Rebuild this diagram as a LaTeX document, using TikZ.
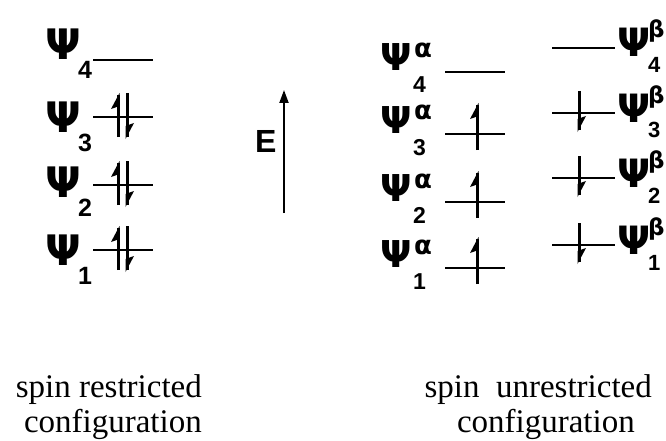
\documentclass[tikz,border=0pt]{standalone}
\usepackage{fontspec}
\setmainfont{Liberation Serif}
\newfontfamily\psf{Liberation Sans}
\newfontfamily\grf{DejaVu Sans}
\usetikzlibrary{arrows.meta}
\newcommand\upharp[3]{%
  \draw[harp] (#1,#3) -- (#1,#2+2);
  \fill (#1+1.5,#2) -- (#1-7,#2+16) -- (#1+1.5,#2+13) -- cycle;}
\newcommand\dnharp[3]{%
  \draw[harp] (#1,#2) -- (#1,#3-2);
  \fill (#1-1.5,#3) -- (#1+7,#3-16) -- (#1-1.5,#3-13) -- cycle;}
\begin{document}
\begin{tikzpicture}[x=1pt,y=-1pt,
  lvl/.style={line width=1.6pt},
  harp/.style={line width=3pt},
  bigpsi/.style={font=\grf\bfseries\fontsize{42}{42}\selectfont,inner sep=0pt,anchor=base west},
  midpsi/.style={font=\grf\bfseries\fontsize{37}{37}\selectfont,inner sep=0pt,anchor=base west},
  subdig/.style={font=\psf\bfseries\fontsize{25}{25}\selectfont,inner sep=0pt,anchor=base west},
  smalldig/.style={font=\psf\bfseries\fontsize{23}{23}\selectfont,inner sep=0pt,anchor=base west},
  supgr/.style={font=\grf\bfseries\fontsize{26}{26}\selectfont,inner sep=0pt,anchor=base west},
  caption/.style={font=\fontsize{33}{33}\selectfont,inner sep=0pt,anchor=base east}]
\useasboundingbox (0,0) rectangle (666,441);
% ---- spin restricted ----
\foreach \n/\y/\b in {4/60/60,3/117/132,2/185/197,1/250/265}{
  \node[bigpsi] (psiL\n) at (45,\b) {Ψ};
  \node[subdig] (subL\n) at (78,\b+19) {\n};
  \coordinate (La\n) at (93,\y);
  \coordinate (Lb\n) at (153,\y);
  \draw[lvl] (La\n) -- (Lb\n);
}
\foreach \y in {117,185,250}{
  \upharp{118}{\y-24}{\y+20}
  \dnharp{127}{\y-24}{\y+22}
}
% ---- energy axis ----
\node[font=\psf\bfseries\fontsize{32}{32}\selectfont,inner sep=0pt,anchor=base west] (E) at (255,152) {E};
\coordinate (Ebot) at (284,213);
\coordinate (Etop) at (284,90);
\draw[line width=2pt,-{Triangle[width=9pt,length=13pt]}] (Ebot) -- (Etop);
% ---- spin unrestricted, alpha ----
\foreach \n/\y in {4/72,3/134,2/202,1/268}{
  \node[midpsi] (psiA\n) at (380,\y-1) {Ψ};
  \node[supgr] (alA\n) at (414,\y-14) {α};
  \node[smalldig] (subA\n) at (413,\y+21) {\n};
  \coordinate (Aa\n) at (445,\y);
  \coordinate (Ab\n) at (505,\y);
  \draw[lvl] (Aa\n) -- (Ab\n);
}
\foreach \y in {134,202,268}{
  \upharp{477}{\y-31}{\y+16}
}
% ---- spin unrestricted, beta ----
\foreach \n/\y in {4/48,3/113,2/178,1/245}{
  \node[bigpsi,font=\grf\bfseries\fontsize{39}{39}\selectfont] (psiB\n) at (617,\y+9) {Ψ};
  \node[supgr,font=\grf\bfseries\fontsize{23}{23}\selectfont] (beB\n) at (648,\y-10) {β};
  \node[smalldig,font=\psf\bfseries\fontsize{22}{22}\selectfont] (subB\n) at (648,\y+25) {\n};
  \coordinate (Ba\n) at (552,\y);
  \coordinate (Bb\n) at (615,\y);
  \draw[lvl] (Ba\n) -- (Bb\n);
}
\foreach \y in {113,178,245}{
  \dnharp{579}{\y-22}{\y+19}
}
% ---- captions ----
\node[caption] (capL1) at (202,397) {spin restricted};
\node[caption] (capL2) at (202,432) {configuration};
\node[caption] (capR1) at (652,397) {spin\ \ unrestricted};
\node[caption] (capR2) at (635,432) {configuration};
\end{tikzpicture}
\end{document}
